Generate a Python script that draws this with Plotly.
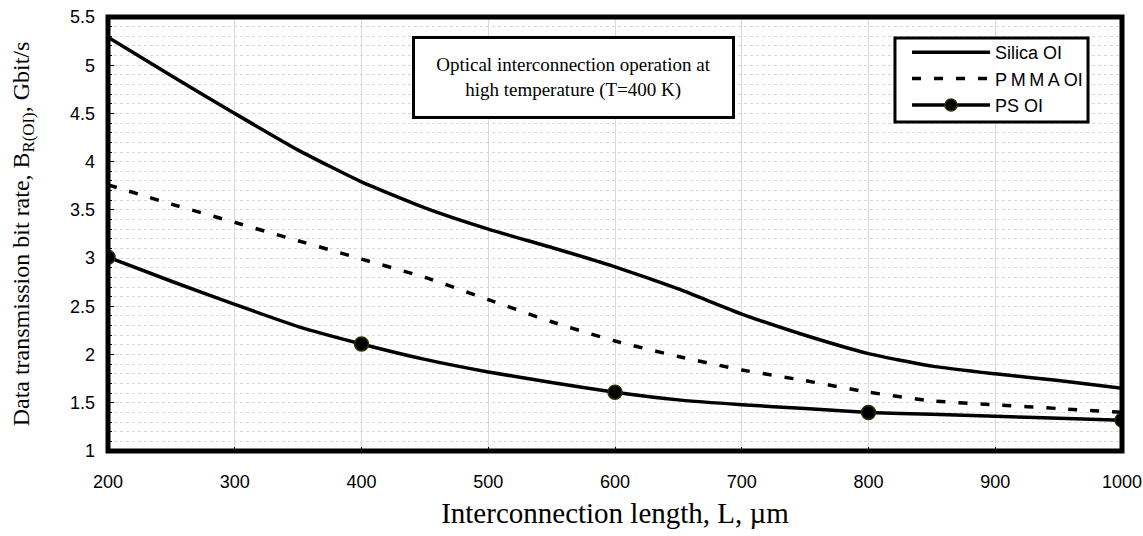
import plotly.graph_objects as go

# Interconnection length, um
length_um = [200, 250, 300, 350, 400, 450, 500, 550, 600, 650, 700, 750, 800, 850, 900, 950, 1000]

# Data transmission bit rate, Gbit/s
silica_oi = [5.29, 4.89, 4.50, 4.12, 3.79, 3.52, 3.30, 3.11, 2.91, 2.68, 2.42, 2.20, 2.01, 1.88, 1.80, 1.73, 1.65]
pmma_oi = [3.76, 3.56, 3.37, 3.18, 2.99, 2.80, 2.57, 2.34, 2.14, 1.98, 1.84, 1.73, 1.61, 1.52, 1.48, 1.44, 1.40]
ps_oi = [3.01, 2.76, 2.52, 2.29, 2.11, 1.95, 1.82, 1.71, 1.61, 1.53, 1.48, 1.44, 1.40, 1.38, 1.36, 1.34, 1.32]

# PS markers every 200 um
ps_marker_at = [200, 400, 600, 800, 1000]

x_ticks = [200, 300, 400, 500, 600, 700, 800, 900, 1000]

SERIF = "Liberation Serif"
SANS = "Liberation Sans"
MARKER = dict(size=14, color="#000000", opacity=1, line=dict(color="#2e2e00", width=1.5))

ps_marker_y = [y for x, y in zip(length_um, ps_oi) if x in ps_marker_at]

fig = go.Figure()

fig.add_trace(go.Scatter(
    x=length_um, y=silica_oi, name="Silica OI", mode="lines",
    line=dict(color="black", width=3.5, shape="spline", smoothing=0.5),
))
fig.add_trace(go.Scatter(
    x=length_um, y=pmma_oi, name="P\u2009M\u2009M\u2009A OI", mode="lines",
    line=dict(color="black", width=3.5, dash="9px,13px", shape="spline", smoothing=0.5),
))
fig.add_trace(go.Scatter(
    x=length_um, y=ps_oi, name="PS OI", mode="lines", legendgroup="ps",
    line=dict(color="black", width=3.5, shape="spline", smoothing=0.5),
    showlegend=False,
))
fig.add_trace(go.Scatter(
    x=ps_marker_at, y=ps_marker_y, name="PS OI", mode="markers", legendgroup="ps",
    marker=MARKER, showlegend=False,
))
# legend entry for PS (line with marker)
fig.add_trace(go.Scatter(
    x=[None], y=[None], name="PS OI", mode="lines+markers", legendgroup="ps",
    line=dict(color="black", width=3.5), marker=dict(MARKER, size=12),
))

fig.update_layout(
    width=1143, height=536,
    margin=dict(l=108, r=21, t=17, b=85),
    paper_bgcolor="white", plot_bgcolor="white",
    font=dict(family=SANS, size=18, color="black"),
    showlegend=True,
    legend=dict(
        x=0.788, y=0.961, xanchor="left", yanchor="top",
        bgcolor="rgba(0,0,0,0)", borderwidth=0,
        font=dict(family=SANS, size=18, color="black"),
        itemwidth=78, tracegroupgap=0,
    ),
    xaxis=dict(
        range=[200, 1000], tickvals=x_ticks,
        showgrid=True, gridcolor="#d9d9d9", gridwidth=1,
        ticks="inside", ticklen=4, tickcolor="black",
        showline=False, zeroline=False, automargin=False,
        ticklabelstandoff=18,
        tickfont=dict(family=SANS, size=18),
        title=dict(text="Interconnection length, L, \u00b5m",
                   font=dict(family=SERIF, size=29), standoff=11),
    ),
    yaxis=dict(
        range=[1, 5.5], dtick=0.5,
        showgrid=True, gridcolor="#d9d9d9", gridwidth=1, griddash="dot",
        ticks="inside", ticklen=6, tickcolor="black",
        showline=False, zeroline=False, automargin=False,
        minor=dict(dtick=0.1, showgrid=True, gridcolor="#d9d9d9", griddash="dot",
                   ticks="inside", ticklen=4, tickcolor="black"),
        ticklabelstandoff=12,
        tickfont=dict(family=SANS, size=18),
        title=dict(text="Data transmission bit rate, B<sub>R(OI)</sub>, Gbit/s",
                   font=dict(family=SERIF, size=24), standoff=33),
    ),
    shapes=[
        # plot frame
        dict(type="rect", xref="paper", yref="paper", x0=0, x1=1, y0=0, y1=1,
             line=dict(color="black", width=5), layer="above"),
        # legend box
        dict(type="rect", xref="paper", yref="paper",
             x0=0.7761, x1=0.9665, y0=0.758, y1=0.9516,
             line=dict(color="black", width=3), fillcolor="white", layer="above"),
    ],
    annotations=[dict(
        xref="paper", yref="paper", x=0.4595, y=0.8605,
        xanchor="center", yanchor="middle", showarrow=False,
        text="Optical interconnection operation at<br>high temperature (T=400 K)",
        font=dict(family=SERIF, size=19, color="black"),
        align="center", bgcolor="white", bordercolor="black", borderwidth=3,
        width=309, height=69, borderpad=4,
    )],
)

fig.write_html("out.html")
